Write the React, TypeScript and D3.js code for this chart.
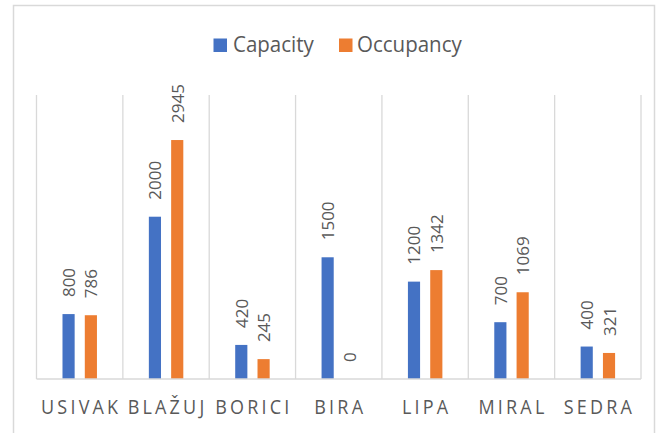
import React from "react";
import * as d3 from "d3";

const categories = ["USIVAK", "BLAŽUJ", "BORICI", "BIRA", "LIPA", "MIRAL", "SEDRA"];
const capacity = [800, 2000, 420, 1500, 1200, 700, 400];
const occupancy = [786, 2945, 245, 0, 1342, 1069, 321];
const seriesNames = ["Capacity", "Occupancy"];
const seriesColors = ["#4472C4", "#ED7D31"];

const W = 659;
const H = 433;
const FONT = "'Open Sans', 'Liberation Sans', sans-serif";
const TEXT = "#595959";
const GRID = "#d9d9d9";

export default function App() {
  const plotLeft = 36.5;
  const plotRight = 641;
  const plotTop = 95;
  const plotBottom = 379;

  const x = d3.scaleBand<string>().domain(categories).range([plotLeft, plotRight]).padding(0);
  const step = x.step();
  const inner = d3
    .scaleBand<string>()
    .domain(seriesNames)
    .range([step * 0.301, step * 0.7])
    .paddingInner(0.455)
    .paddingOuter(0);
  const y = d3.scaleLinear().domain([0, 3500]).range([plotBottom, plotTop]);

  const series = [capacity, occupancy];
  const boundaries = d3.range(categories.length + 1).map((i) => plotLeft + i * step);

  const legendItems = [
    { name: seriesNames[0], color: seriesColors[0], sx: 213.5, tx: 233 },
    { name: seriesNames[1], color: seriesColors[1], sx: 339, tx: 357 },
  ];

  return (
    <svg
      width={W}
      height={H}
      style={{ position: "absolute", left: 0, top: 0, background: "#fff" }}
      fontFamily={FONT}
    >
      <rect x={0} y={0} width={W} height={H} fill="#fff" />
      <rect x={13.5} y={5.5} width={641} height={440} fill="#fff" stroke={GRID} strokeWidth={1.5} />

      {/* legend */}
      {legendItems.map((d) => (
        <g key={d.name}>
          <rect x={d.sx} y={38.5} width={13.5} height={13.5} fill={d.color} />
          <text
            transform={`translate(${d.tx},52) scale(1,1.08)`}
            fontSize={20.5}
            fill={TEXT}
          >
            {d.name}
          </text>
        </g>
      ))}

      {/* vertical gridlines */}
      {boundaries.map((bx, i) => (
        <line key={i} x1={bx} x2={bx} y1={plotTop} y2={plotBottom} stroke={GRID} strokeWidth={1.3} />
      ))}

      {/* bars */}
      {series.map((vals, si) =>
        vals.map((v, ci) => {
          const bx = (x(categories[ci]) as number) + (inner(seriesNames[si]) as number);
          const bw = inner.bandwidth();
          const top = y(v);
          return (
            <rect
              key={`${si}-${ci}`}
              x={bx}
              y={top}
              width={bw}
              height={plotBottom - top}
              fill={seriesColors[si]}
            />
          );
        })
      )}

      {/* baseline */}
      <line x1={plotLeft} x2={plotRight} y1={plotBottom} y2={plotBottom} stroke={GRID} strokeWidth={1.5} />

      {/* data labels */}
      {series.map((vals, si) =>
        vals.map((v, ci) => {
          const cx = (x(categories[ci]) as number) + (inner(seriesNames[si]) as number) + inner.bandwidth() / 2;
          const ty = y(v) - 17;
          return (
            <text
              key={`l-${si}-${ci}`}
              transform={`translate(${cx},${ty}) rotate(-90)`}
              fontSize={17}
              fill={TEXT}
              dominantBaseline="central"
              textAnchor="start"
            >
              {v}
            </text>
          );
        })
      )}

      {/* category labels */}
      {categories.map((c) => (
        <text
          key={c}
          transform={`translate(${(x(c) as number) + step / 2 + 1.5},413.5) scale(1,1.1)`}
          fontSize={18}
          fill={TEXT}
          textAnchor="middle"
          letterSpacing={3.2}
        >
          {c}
        </text>
      ))}
    </svg>
  );
}
